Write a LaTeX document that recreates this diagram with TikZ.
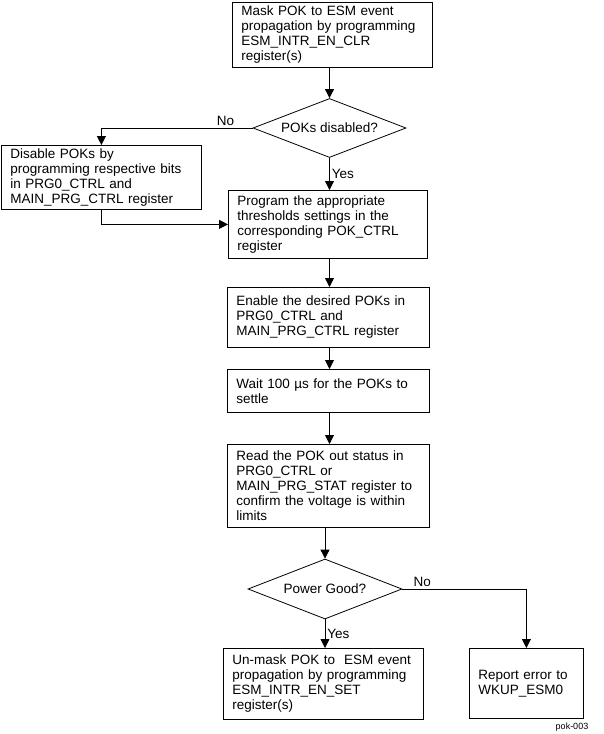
\documentclass[tikz,border=0pt]{standalone}
\usepackage{fontspec}
\setmainfont{Liberation Sans}
\usetikzlibrary{arrows.meta,shapes.geometric}
\tikzset{
  procbox/.style={draw, rectangle, anchor=north west, align=left, inner xsep=9pt, inner ysep=2pt, line width=0.8pt, font=\fontsize{13.5}{15}\selectfont},
  decbox/.style={draw, diamond, aspect=2.6, inner sep=0pt, line width=0.8pt, font=\fontsize{13.5}{15}\selectfont},
  flow/.style={-{Triangle[length=9pt,width=9pt]}, line width=0.8pt},
  lbl/.style={font=\fontsize{13.5}{15}\selectfont, inner sep=2pt},
}

\begin{document}
\begin{tikzpicture}[x=1pt,y=-1pt]
  \useasboundingbox (0,0) rectangle (603,734);

  \node[procbox, text width=182pt, minimum height=65pt] (mask) at (232,2)
    {Mask POK to ESM event\\propagation by programming\\ESM\_INTR\_EN\_CLR\\register(s)};
  \node[decbox, minimum width=153pt, minimum height=59pt] (pokq) at (329.5,128) {POKs disabled?};
  \node[procbox, text width=182pt, minimum height=64pt] (dis) at (1,145)
    {Disable POKs by\\programming respective bits\\in PRG0\_CTRL and\\MAIN\_PRG\_CTRL register};
  \node[procbox, text width=181pt, minimum height=68pt] (thr) at (228,190)
    {Program the appropriate\\thresholds settings in\ the\\corresponding POK\_CTRL\\register};
  \node[procbox, text width=184pt, minimum height=60pt] (ena) at (227,287)
    {Enable the desired POKs in\\PRG0\_CTRL and\\MAIN\_PRG\_CTRL register};
  \node[procbox, text width=184pt, minimum height=43pt] (wait) at (227,369)
    {Wait 100 µs for the POKs to\\settle};
  \node[procbox, text width=184pt, minimum height=83pt] (read) at (227,444)
    {Read the POK out status in\\PRG0\_CTRL or\\MAIN\_PRG\_STAT register to\\confirm the voltage is within\\limits};
  \node[decbox, minimum width=154pt, minimum height=60pt] (pwrq) at (325,589) {Power Good?};
  \node[procbox, text width=182pt, minimum height=71pt] (unmask) at (223,648)
    {Un-mask POK to\ \ ESM event\\propagation by programming\\ESM\_INTR\_EN\_SET\\register(s)};
  \node[procbox, text width=96pt, minimum height=70pt] (rep) at (469,648)
    {Report error to\\WKUP\_ESM0};
  \node[font=\fontsize{9}{10}\selectfont, inner sep=0pt] (tag) at (572,727) {pok-003};

  \draw[flow] (mask.south -| pokq) -- (pokq.north);
  \draw[flow] (pokq.west) -| (dis.north) node[lbl, pos=0.09, above] {No};
  \draw[flow] (pokq.south) -- (pokq.south |- thr.north) node[lbl, midway, right] {Yes};
  \draw[flow] (dis.south) |- (thr.west);
  \draw[flow] (thr.south -| pokq) -- (ena.north -| pokq);
  \draw[flow] (ena.south -| pokq) -- (wait.north -| pokq);
  \draw[flow] (wait.south -| pokq) -- (read.north -| pokq);
  \draw[flow] (read.south -| pwrq) -- (pwrq.north);
  \draw[flow] (pwrq.south) -- (pwrq.south |- unmask.north) node[lbl, midway, right] {Yes};
  \draw[flow] (pwrq.east) -| (rep.north) node[lbl, pos=0.08, above] {No};
\end{tikzpicture}
\end{document}
